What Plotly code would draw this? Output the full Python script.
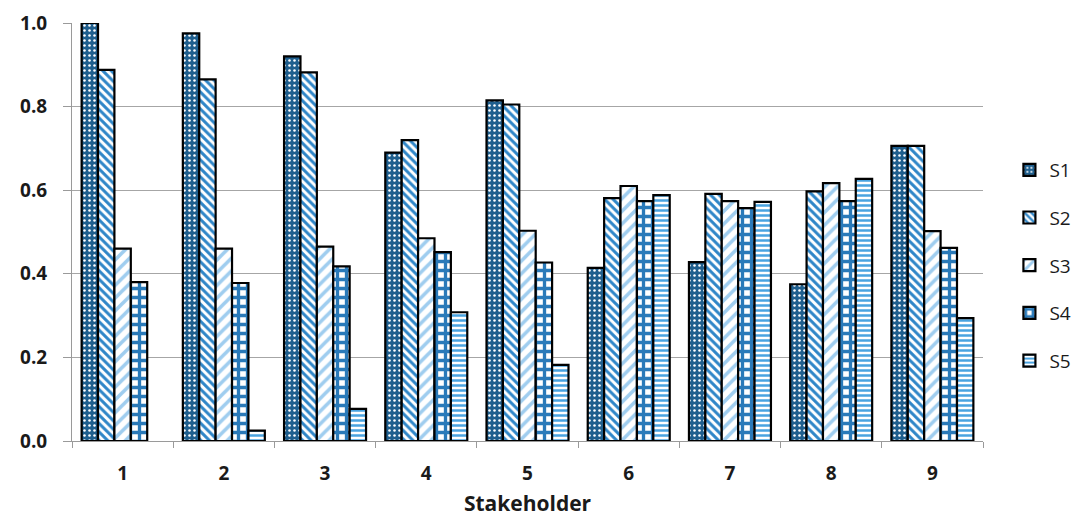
import plotly.graph_objects as go

categories = ["1", "2", "3", "4", "5", "6", "7", "8", "9"]
series_names = ["S1", "S2", "S3", "S4", "S5"]

s1 = [1.0, 0.975, 0.92, 0.69, 0.815, 0.414, 0.428, 0.375, 0.706]
s2 = [0.888, 0.865, 0.882, 0.72, 0.805, 0.581, 0.591, 0.597, 0.706]
s3 = [0.46, 0.46, 0.465, 0.485, 0.503, 0.61, 0.574, 0.617, 0.502]
s4 = [0.38, 0.378, 0.418, 0.452, 0.427, 0.574, 0.557, 0.574, 0.462]
s5 = [None, 0.025, 0.077, 0.308, 0.182, 0.588, 0.572, 0.627, 0.294]

values = [s1, s2, s3, s4, s5]

# fill styles per series: (pattern shape, background, foreground, size, solidity)
styles = [
    (".", "#1f5f8e", "#ffffff", 5, 0.2),
    ("\\", "#ffffff", "#2f86c8", 6, 0.5),
    ("/", "#ffffff", "#9fcdef", 9, 0.4),
    ("+", "#ffffff", "#2a7ab9", 9, 0.6),
    ("-", "#ffffff", "#4aa3e0", 5, 0.5),
]

fig = go.Figure()
for name, vals, (shape, bg, fg, size, sol) in zip(series_names, values, styles):
    fig.add_trace(go.Bar(
        x=categories, y=vals, name=name, legendgroup=name,
        cliponaxis=False,
        marker=dict(
            color=bg,
            line=dict(color="#000000", width=2.2),
            pattern=dict(shape=shape, fgcolor=fg, bgcolor=bg, size=size,
                         solidity=sol, fillmode="replace", fgopacity=1),
        ),
    ))

fig.update_layout(
    width=1077, height=517,
    margin=dict(l=72, r=94, t=23, b=76, autoexpand=False),
    paper_bgcolor="white", plot_bgcolor="white",
    barmode="group", bargap=0.19, bargroupgap=0,
    font=dict(family="Open Sans", color="#1a1a1a"),
    legend=dict(
        x=1.029, xanchor="left", y=0.42, yanchor="middle",
        font=dict(size=19, family="Open Sans"),
        tracegroupgap=20, itemwidth=30,
    ),
    xaxis=dict(
        title=dict(text="<b>Stakeholder</b>", font=dict(size=21), standoff=13),
        tickfont=dict(size=19), tickprefix="<b>", ticksuffix="</b>",
        showline=True, linecolor="#9a9a9a", linewidth=1,
        ticks="outside", tickson="boundaries", ticklen=6, tickcolor="#9a9a9a",
        ticklabelstandoff=15,
        showgrid=False,
    ),
    yaxis=dict(
        range=[0, 1.0], dtick=0.2, tickformat=".1f",
        tickfont=dict(size=19), tickprefix="<b>", ticksuffix="</b>",
        showline=True, linecolor="#9a9a9a", linewidth=1,
        ticks="outside", ticklen=8, tickcolor="#9a9a9a",
        ticklabelstandoff=12,
        showgrid=True, gridcolor="#a6a6a6", gridwidth=1,
        zeroline=False,
    ),
)

fig.write_html("out.html")
